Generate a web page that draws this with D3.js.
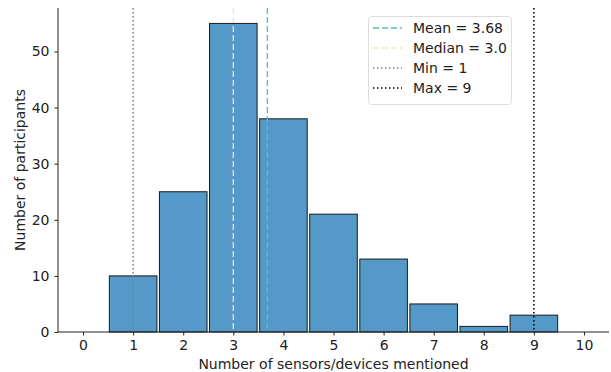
<!DOCTYPE html>
<html>
<head>
<meta charset="utf-8">
<script src="https://cdn.jsdelivr.net/npm/d3@7"></script>
<style>
  body { margin: 0; background: #fff; }
  svg { font-family: "DejaVu Sans", sans-serif; }
</style>
</head>
<body>
<svg width="611" height="372"></svg>
<script>
const counts = [1, 2, 3, 4, 5, 6, 7, 8, 9];
const participants = [10, 25, 55, 38, 21, 13, 5, 1, 3];
const xTicks = [0, 1, 2, 3, 4, 5, 6, 7, 8, 9, 10];
const yTicks = [0, 10, 20, 30, 40, 50];
const statNames = ["Mean = 3.68", "Median = 3.0", "Min = 1", "Max = 9"];
const statValues = [3.68, 3.0, 1, 9];

let svg = d3.select("svg");

let pLeft = 58, pRight = 609, pTop = 8, pBottom = 332;

let xScale = d3.scaleLinear().domain([-0.5, 10.5]).range([pLeft, pRight]);
let yScale = d3.scaleLinear().domain([0, 57.75]).range([pBottom, pTop]);

let styles = [
    {color: "#5dbfae", dash: "6,3", width: 1.3},
    {color: "#f7e3c0", dash: "6,3", width: 1.3},
    {color: "#808080", dash: "1.5,2.5", width: 1.5},
    {color: "#000000", dash: "1.5,2.5", width: 1.5}
];

// bars
svg.selectAll("rect.bar")
    .data(counts)
    .enter()
    .append("rect")
    .attr("class", "bar")
    .attr("x", (d) => xScale(d - 0.475))
    .attr("width", xScale(0.95) - xScale(0))
    .attr("y", (d, i) => yScale(participants[i]))
    .attr("height", (d, i) => yScale(0) - yScale(participants[i]))
    .attr("fill", "#5499c7")
    .attr("stroke", "#1a1a1a")
    .attr("stroke-width", 1);

// stat lines
svg.selectAll("line.stat")
    .data(statValues)
    .enter()
    .append("line")
    .attr("class", "stat")
    .attr("x1", (d) => xScale(d))
    .attr("x2", (d) => xScale(d))
    .attr("y1", pTop)
    .attr("y2", pBottom)
    .attr("stroke", (d, i) => styles[i].color)
    .attr("stroke-width", (d, i) => styles[i].width)
    .attr("stroke-dasharray", (d, i) => styles[i].dash);

// axes
let xAxis = d3.axisBottom(xScale).tickValues(xTicks).tickSizeOuter(0).tickSize(3.5).tickPadding(5);
let gx = svg.append("g")
    .attr("transform", "translate(0," + pBottom + ")")
    .call(xAxis);

let yAxis = d3.axisLeft(yScale).tickValues(yTicks).tickSizeOuter(0).tickSize(3.5).tickPadding(5);
let gy = svg.append("g")
    .attr("transform", "translate(" + pLeft + ",0)")
    .call(yAxis);

gx.select(".domain").attr("d", "M" + pLeft + ",0H" + pRight);
gy.select(".domain").attr("d", "M0," + pTop + "V" + pBottom);

[gx, gy].forEach(g => {
    g.selectAll("text").attr("font-size", 14).attr("fill", "#222").attr("font-family", "DejaVu Sans");
    g.selectAll("line, path").attr("stroke", "#222").attr("stroke-width", 1);
});

svg.append("text")
    .attr("x", (pLeft + pRight) / 2)
    .attr("y", 369)
    .attr("text-anchor", "middle")
    .attr("font-size", 14)
    .attr("fill", "#222")
    .text("Number of sensors/devices mentioned");

svg.append("text")
    .attr("transform", "translate(25," + ((pTop + pBottom) / 2) + ") rotate(-90)")
    .attr("text-anchor", "middle")
    .attr("font-size", 14)
    .attr("fill", "#222")
    .text("Number of participants");

// legend
let legend = svg.append("g");
legend.append("rect")
    .attr("x", 368.5).attr("y", 16.5)
    .attr("width", 143).attr("height", 88)
    .attr("rx", 3)
    .attr("fill", "#fff").attr("fill-opacity", 0.8)
    .attr("stroke", "#dcdcdc");

statNames.forEach((name, i) => {
    let y = 28 + i * 20;
    legend.append("line")
        .attr("x1", 373).attr("x2", 402)
        .attr("y1", y).attr("y2", y)
        .attr("stroke", styles[i].color)
        .attr("stroke-width", styles[i].width)
        .attr("stroke-dasharray", styles[i].dash);
    legend.append("text")
        .attr("x", 413).attr("y", y + 5)
        .attr("font-size", 14)
        .attr("fill", "#222")
        .text(name);
});
</script>
</body>
</html>
